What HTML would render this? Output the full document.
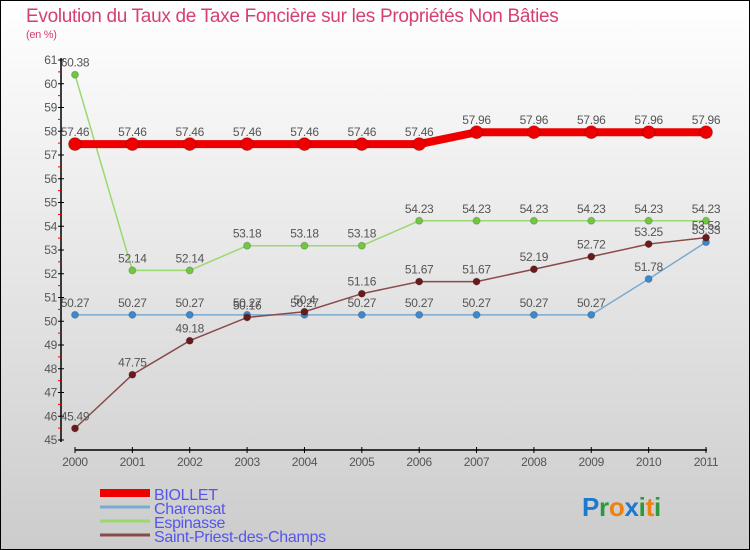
<!DOCTYPE html>
<html><head><meta charset="utf-8"><style>
body{margin:0}
#c{position:relative;width:750px;height:550px;box-sizing:border-box;border:1px solid #000;background:linear-gradient(#fff,#ccc);font-family:"Liberation Sans",sans-serif;overflow:hidden}
text{letter-spacing:-0.3px}
</style></head><body>
<div id="c">
<svg width="750" height="550" id="s" style="position:absolute;left:-1px;top:-1px">
<text x="26" y="22" font-size="19" fill="#d64070">Evolution du Taux de Taxe Foncière sur les Propriétés Non Bâties</text>
<text x="26" y="38" font-size="11" fill="#d64070">(en %)</text>
</svg>
</div>
<script>
const years=["2000","2001","2002","2003","2004","2005","2006","2007","2008","2009","2010","2011"];
const yTicks=[45,46,47,48,49,50,51,52,53,54,55,56,57,58,59,60,61];
const biollet=[57.46,57.46,57.46,57.46,57.46,57.46,57.46,57.96,57.96,57.96,57.96,57.96];
const charensat=[50.27,50.27,50.27,50.27,50.27,50.27,50.27,50.27,50.27,50.27,51.78,53.33];
const espinasse=[60.38,52.14,52.14,53.18,53.18,53.18,54.23,54.23,54.23,54.23,54.23,54.23];
const stPriest=[45.49,47.75,49.18,50.16,50.4,51.16,51.67,51.67,52.19,52.72,53.25,53.52];
const NS="http://www.w3.org/2000/svg";
const s=document.getElementById('s');
const X=i=>75+i*(631/11);
const Y=v=>440-(v-45)*(380/16);
function el(t,a,p){const e=document.createElementNS(NS,t);for(const k in a)e.setAttribute(k,a[k]);(p||s).appendChild(e);return e;}
let ax=el('line',{x1:61,y1:58,x2:61,y2:442,stroke:'#000','stroke-width':1.5});


let bx=el('line',{x1:75,y1:450,x2:707,y2:450,stroke:'#000','stroke-width':1.5});


yTicks.forEach((v,i)=>{
 el('line',{x1:58,x2:64,y1:Y(v),y2:Y(v),stroke:'#000'});
 if(i<yTicks.length-1)el('line',{x1:58,x2:61,y1:Y(v+0.5),y2:Y(v+0.5),stroke:'#e00'});
 const t=el('text',{x:57,y:Y(v)+4,'text-anchor':'end','font-size':12,fill:'#555'});
 t.textContent=v;
 
 
});
years.forEach((y,i)=>{
 el('line',{x1:X(i),x2:X(i),y1:447,y2:453,stroke:'#000'});
 const t=el('text',{x:X(i),y:466,'text-anchor':'middle','font-size':12,fill:'#555'});
 t.textContent=y;
 
 
});
function series(vals,col,w,r,dot,name){
 const p=el('polyline',{points:vals.map((v,i)=>X(i)+','+Y(v)).join(' '),fill:'none',stroke:col,'stroke-width':w});
 
 
 vals.forEach((v,i)=>{
  const c=el('circle',{cx:X(i),cy:Y(v),r:r,fill:dot,stroke:'#0003'});
  
  
  const t=el('text',{x:X(i),y:Y(v)-8,'text-anchor':'middle','font-size':12,fill:'#555'});
  t.textContent=v;
  
  
 });
}
series(charensat,'#7aaad0',1.5,3.5,'#3b8ad0','charensat');
series(espinasse,'#9ad870',1.5,3.5,'#70c840','espinasse');
series(stPriest,'#8a4a4a',1.5,3.5,'#6a1a1a','saint-priest');
series(biollet,'#e00',8,6.5,'#e00','biollet');
const leg=[['BIOLLET','#e00',8],['Charensat','#7aaad0',3],['Espinasse','#9ad870',3],['Saint-Priest-des-Champs','#8a4a4a',3]];
leg.forEach((l,i)=>{
 const y=493+i*14;
 el('line',{x1:100,x2:150,y1:y,y2:y,stroke:l[1],'stroke-width':l[2]});
 const t=el('text',{x:154,y:y+7,'font-size':16,fill:'#5555ee'});
 t.textContent=l[0];
 
 
});
const lg=el('text',{x:582,y:516,'font-size':26,'font-weight':'bold'});


[['P','#1a7ad0'],['r','#2a9a3a'],['o','#f08010'],['x','#1a7ad0'],['i','#2a9a3a'],['t','#f08010'],['i','#2a9a3a']].forEach(([ch,c])=>{const sp=el('tspan',{fill:c},lg);sp.textContent=ch;});
</script>
</body></html>
